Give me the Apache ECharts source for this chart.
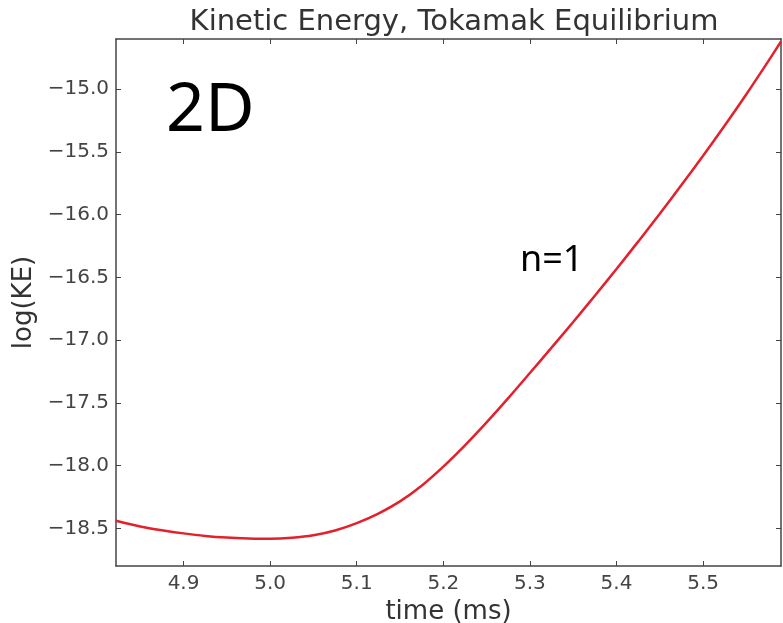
<!DOCTYPE html>
<html>
<head>
<meta charset="utf-8">
<script src="https://cdn.jsdelivr.net/npm/echarts@6/dist/echarts.min.js"></script>
<style>
  html, body { margin: 0; padding: 0; background: #fff; }
  #main { width: 783px; height: 623px; }
</style>
</head>
<body>
<div id="main"></div>
<script>
// time (ms) and log(KE)
var times = [4.822, 4.85, 4.875, 4.90, 4.925, 4.95, 4.975, 5.00, 5.025, 5.05, 5.075, 5.10, 5.125, 5.15, 5.175,
             5.20, 5.225, 5.25, 5.275, 5.30, 5.325, 5.35, 5.375, 5.40, 5.425, 5.45, 5.475, 5.50, 5.525, 5.55, 5.575, 5.59];
var logKE = [-18.44, -18.485, -18.515, -18.54, -18.56, -18.573, -18.58, -18.583, -18.575, -18.555, -18.517, -18.458, -18.382, -18.285, -18.16,
             -18.008, -17.838, -17.655, -17.462, -17.262, -17.06, -16.855, -16.646, -16.433, -16.215, -15.992, -15.764, -15.531, -15.29, -15.04, -14.78, -14.62];

var xTicks = [4.9, 5.0, 5.1, 5.2, 5.3, 5.4, 5.5];
var yTicks = [-18.5, -18.0, -17.5, -17.0, -16.5, -16.0, -15.5, -15.0];

var axisColor = "#444";
var font = "DejaVu Sans";

function fmt(v) {
  return v.toFixed(1).replace("-", "\u2212");
}

var chartDom = document.getElementById("main");
var myChart = echarts.init(chartDom);

var points = times.map(function (t, i) { return [t, logKE[i]]; });

// inward ticks, like matplotlib
function ticks(vals) {
  return {
    show: true,
    inside: true,
    length: 5,
    customValues: vals,
    lineStyle: { color: axisColor, width: 1 }
  };
}

var option = {
  animation: false,
  title: {
    text: "Kinetic Energy, Tokamak Equilibrium",
    left: 449,
    top: 3,
    textAlign: "center",
    textStyle: { fontFamily: font, fontSize: 29, fontWeight: "normal", color: "#333" }
  },
  grid: { left: 116, right: 2, top: 39, bottom: 57, show: false, containLabel: false, outerBoundsMode: "none" },
  xAxis: [
    {
      type: "value",
      min: 4.822,
      max: 5.59,
      name: "time (ms)",
      nameLocation: "middle",
      nameGap: 27,
      nameTextStyle: { fontFamily: font, fontSize: 26, color: "#333" },
      axisLine: { show: true, onZero: false, lineStyle: { color: axisColor, width: 1.5 } },
      axisTick: ticks(xTicks),
      axisLabel: {
        customValues: xTicks,
        margin: 8,
        fontFamily: font, fontSize: 20, color: "#444",
        formatter: fmt
      },
      splitLine: { show: false }
    },
    {
      type: "value",
      position: "top",
      min: 4.822,
      max: 5.59,
      axisLine: { show: true, onZero: false, lineStyle: { color: axisColor, width: 1.5 } },
      axisTick: ticks(xTicks),
      axisLabel: { show: false },
      splitLine: { show: false }
    }
  ],
  yAxis: [
    {
      type: "value",
      min: -18.8,
      max: -14.6,
      name: "log(KE)",
      nameLocation: "middle",
      nameRotate: 90,
      nameGap: 78,
      nameTextStyle: { fontFamily: font, fontSize: 26, color: "#333" },
      axisLine: { show: true, onZero: false, lineStyle: { color: axisColor, width: 1.5 } },
      axisTick: ticks(yTicks),
      axisLabel: {
        customValues: yTicks,
        margin: 7,
        fontFamily: font, fontSize: 20, color: "#444",
        formatter: fmt
      },
      splitLine: { show: false }
    },
    {
      type: "value",
      position: "right",
      min: -18.8,
      max: -14.6,
      axisLine: { show: true, onZero: false, lineStyle: { color: axisColor, width: 1.5 } },
      axisTick: ticks(yTicks),
      axisLabel: { show: false },
      splitLine: { show: false }
    }
  ],
  series: [
    {
      type: "line",
      data: points,
      smooth: 0.3,
      symbol: "none",
      clip: true,
      lineStyle: { color: "#e3202b", width: 2.5 }
    }
  ],
  // slide annotations
  graphic: [
    {
      type: "text",
      left: 166,
      top: 78,
      style: { text: "2D", fontFamily: "Noto Sans", fontSize: 68, fill: "#000" }
    },
    {
      type: "text",
      left: 520,
      top: 243,
      style: { text: "n=1", fontFamily: "Noto Sans", fontSize: 36, fill: "#000" }
    }
  ]
};

option && myChart.setOption(option);
</script>
</body>
</html>
